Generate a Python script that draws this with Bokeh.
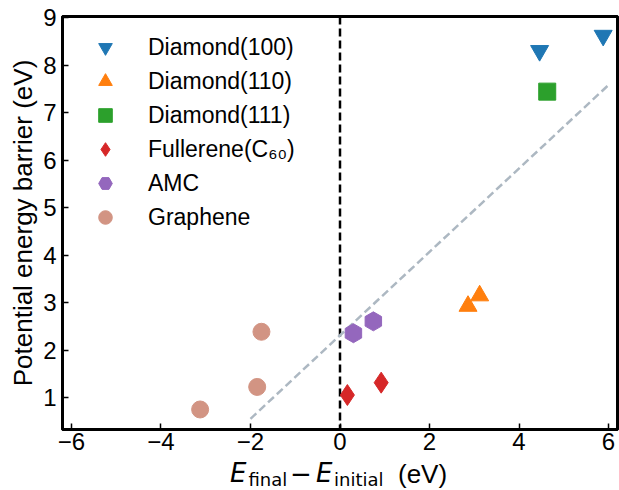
from bokeh.plotting import figure
from bokeh.layouts import column
from bokeh.models import Range1d, Span, Legend, LegendItem, LinearAxis, FixedTicker
from bokeh.core.properties import value
from bokeh.embed import file_html
from bokeh.resources import INLINE
import math

# ---- data ----
series_names = ["Diamond(100)", "Diamond(110)", "Diamond(111)", "Fullerene(C\u2086\u2080)", "AMC", "Graphene"]
d100_x = [4.46, 5.88]
d100_y = [8.30, 8.62]
d110_x = [2.86, 3.12]
d110_y = [2.93, 3.15]
d111_x = [4.63]
d111_y = [7.44]
c60_x = [0.165, 0.92]
c60_y = [1.06, 1.32]
amc_x = [0.30, 0.745]
amc_y = [2.36, 2.61]
gr_x = [-3.125, -1.85, -1.755]
gr_y = [0.756, 1.23, 2.39]
fit_x = [-2.0, 6.0]
fit_y = [0.56, 7.58]
zero_x = 0.0
x_ticks = [-6, -4, -2, 0, 2, 4, 6]
x_tick_labels = ["\u22126", "\u22124", "\u22122", "0", "2", "4", "6"]
y_ticks = [1, 2, 3, 4, 5, 6, 7, 8, 9]
y_tick_labels = ["1", "2", "3", "4", "5", "6", "7", "8", "9"]
x_lim = (-6.2, 6.2)
y_lim = (0.335, 9.02)

FONT = "Liberation Sans"
MATHFONT = "DejaVu Sans"
W = 619
H_MAIN = 457
H_LABEL = 33

p = figure(width=W, height=H_MAIN, output_backend="svg", toolbar_location=None, title=None,
           x_range=Range1d(*x_lim), y_range=Range1d(*y_lim),
           min_border_left=62, min_border_right=2, min_border_top=16, min_border_bottom=28)
p.background_fill_color = "white"
p.border_fill_color = "white"
p.outline_line_color = "black"
p.outline_line_width = 3
p.xgrid.visible = False
p.ygrid.visible = False

for ax, ticks, labels in ((p.xaxis[0], x_ticks, x_tick_labels), (p.yaxis[0], y_ticks, y_tick_labels)):
    ax.ticker = ticks
    ax.major_label_overrides = {t: l for t, l in zip(ticks, labels)}
    ax.major_tick_in = 6
    ax.major_tick_out = 0
    ax.major_tick_line_width = 1.5
    ax.major_tick_line_color = "black"
    ax.minor_tick_line_color = None
    ax.axis_line_width = 3
    ax.axis_line_color = "black"
    ax.major_label_text_font = FONT
    ax.major_label_text_font_size = "24px"
    ax.major_label_text_color = "black"
p.xaxis.major_label_standoff = 3
p.yaxis.major_label_standoff = 6

# closing frame lines (top / right)
for side in ("right", "above"):
    p.add_layout(LinearAxis(ticker=FixedTicker(ticks=[]), axis_line_width=3, axis_line_color="black",
                            major_tick_line_color=None, minor_tick_line_color=None,
                            major_label_text_font_size="0px", major_label_standoff=0), side)

p.yaxis[0].axis_label = "Potential energy barrier (eV)"
p.yaxis[0].axis_label_text_font = FONT
p.yaxis[0].axis_label_text_font_size = "26px"
p.yaxis[0].axis_label_text_font_style = "normal"
p.yaxis[0].axis_label_text_color = "black"
p.yaxis[0].axis_label_standoff = 2

# vertical zero line
p.add_layout(Span(location=zero_x, dimension="height", line_color="black",
                  line_dash="8 4", line_width=2.5, level="underlay"))

# fit line
p.line(fit_x, fit_y, line_color="#adb8c2", line_width=2.5, line_dash="8 4")

r1 = p.scatter(d100_x, d100_y, marker="inverted_triangle", size=18, color="#1f77b4")
r2 = p.scatter(d110_x, d110_y, marker="triangle", size=18, color="#ff7f0e")
r3 = p.scatter(d111_x, d111_y, marker="square", size=17, color="#2ca02c")
r4 = p.scatter(c60_x, c60_y, marker="diamond", size=21, color="#d62728")
r5 = p.scatter(amc_x, amc_y, marker="hex", size=19, angle=math.pi / 2, color="#9467bd")
r6 = p.scatter(gr_x, gr_y, marker="circle", size=17, color="#d29483")

items = [LegendItem(label=n, renderers=[r]) for n, r in zip(series_names, [r1, r2, r3, r4, r5, r6])]
legend = Legend(items=items, location="top_left", margin=0, padding=14, spacing=0,
                glyph_width=58, glyph_height=34, label_height=34, label_standoff=14,
                label_text_font=FONT, label_text_font_size="23px", label_text_color="black",
                background_fill_alpha=0, border_line_alpha=0)
p.add_layout(legend)

# ---- x-axis label strip (math-style subscripts), same horizontal scale as the plot ----
p2 = figure(width=W, height=H_LABEL, output_backend="svg", toolbar_location=None, title=None,
            x_range=p.x_range, y_range=Range1d(0, H_LABEL),
            x_axis_location=None, y_axis_location=None,
            min_border_left=62, min_border_right=2, min_border_top=0, min_border_bottom=0)
p2.xgrid.visible = False
p2.ygrid.visible = False
p2.outline_line_color = None
p2.background_fill_color = "white"
p2.border_fill_color = "white"

pieces = [
    ("E", MATHFONT, "italic", "26px", -110, 17.5),
    ("final", MATHFONT, "normal", "18px", -91.5, 10.7),
    ("\u2212", MATHFONT, "normal", "26px", -50, 17.5),
    ("E", MATHFONT, "italic", "26px", -24, 17.5),
    ("initial", MATHFONT, "normal", "18px", -6, 10.7),
    ("(eV)", FONT, "normal", "26px", 58, 17),
]
for txt, fnt, sty, sz, dx, yy in pieces:
    p2.text(x=[zero_x], y=[yy], text=[txt], x_offset=dx,
            text_font=value(fnt), text_font_style=sty, text_font_size=sz,
            text_color="black", text_align="left", text_baseline="alphabetic")

layout = column(p, p2, spacing=0)
open("out.html", "w").write(file_html(layout, INLINE))
